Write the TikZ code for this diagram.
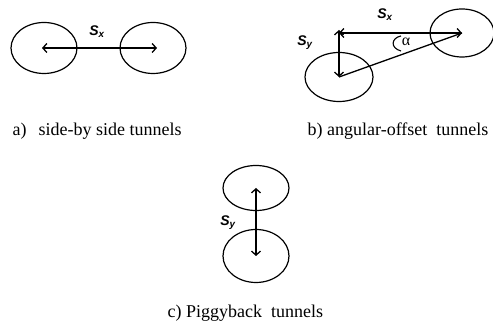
\documentclass[tikz,border=0pt]{standalone}
\usepackage{fontspec}
\setmainfont{Liberation Serif}
\newfontfamily\symfont{Liberation Sans}
\usetikzlibrary{shapes.geometric,arrows.meta,positioning}

\begin{document}
\begin{tikzpicture}[x=1pt,y=-1pt,line width=1.3pt,
    tunnel/.style={draw,ellipse,inner sep=0pt,line width=1.2pt,minimum width=66pt},
    dist/.style={{Straight Barb[length=4pt,width=9pt]}-{Straight Barb[length=4pt,width=9pt]}},
    caption/.style={anchor=base west,inner sep=0pt,font=\fontsize{18}{20}\selectfont},
    sym/.style={inner sep=0pt,font=\symfont\bfseries\itshape\fontsize{14}{15}\selectfont}]
    \useasboundingbox (0,0) rectangle (493,328);
    % a) side by side
    \node[tunnel,minimum height=51pt] at (44,48) (aL) {};
    \node[tunnel,minimum height=51pt] at (153,48) (aR) {};
    \draw[dist] ([xshift=-2pt]aL.center) -- ([xshift=4pt]aR.center);
    \node[sym] at (97,32) (aSx) {S\textsubscript{x}};
    \node[caption] at (12,136) (capA) {a)\hspace{12pt}side-by side tunnels};

    % b) angular offset
    \node[tunnel,minimum width=68pt,minimum height=49pt] at (339,77) (bL) {};
    \node[tunnel,minimum width=64pt,minimum height=48pt] at (462,33) (bR) {};
    \coordinate (bTop) at (bL.center |- bR.center);
    \draw[dist] (bTop) -- (bR.center);
    \draw[dist] ([yshift=3pt]bTop) -- (bL.center);
    \draw (bL.center) -- (bR.center);
    \draw[line width=1.1pt] (401,36) .. controls (391,38) and (390,48) .. (401,51);
    \node[inner sep=0pt,font=\fontsize{16}{17}\selectfont] at (406,42) (alpha) {α};
    \node[sym] at (385,15) (bSx) {S\textsubscript{x}};
    \node[sym] at (305,43) (bSy) {S\textsubscript{y}};
    \node[caption] at (307,136) (capB) {b) angular-offset\ \ tunnels};

    % c) piggyback
    \node[tunnel,minimum height=45pt] at (256,188) (cT) {};
    \node[tunnel,minimum height=53pt] at (256,256) (cB) {};
    \draw[dist] (cT.center) -- (cB.center);
    \node[sym] at (228,223) (cSy) {S\textsubscript{y}};
    \node[caption] at (167,318) (capC) {c) Piggyback\ \ tunnels};
\end{tikzpicture}
\end{document}
